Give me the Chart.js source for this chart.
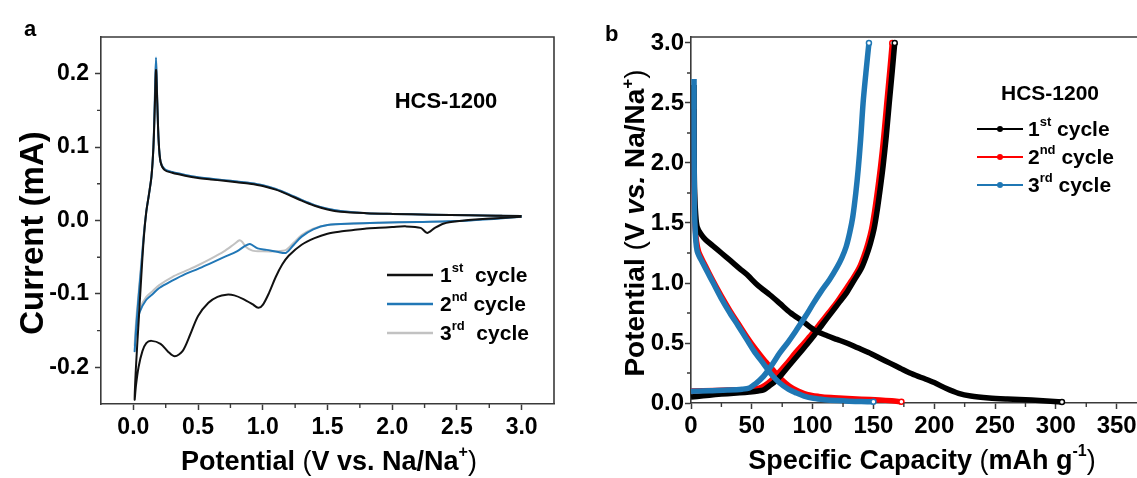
<!DOCTYPE html>
<html>
<head>
<meta charset="utf-8">
<script src="https://cdn.jsdelivr.net/npm/chart.js@4/dist/chart.umd.min.js"></script>
<style>
  html, body { margin: 0; padding: 0; background: #fff; overflow: hidden; }
  #cv { position: absolute; left: 0; top: 0; }
  #gcd { position: absolute; left: 580px; top: 0; }
</style>
</head>
<body>
<canvas id="cv" width="570" height="478"></canvas>
<canvas id="gcd" width="600" height="478"></canvas>
<script>
// ---- CV curves (potential V, current mA), in sweep order: cathodic then anodic ----
const cvV1 = [3.0, 2.7, 2.5, 2.4, 2.33, 2.27, 2.22, 2.1, 2.0, 1.9, 1.8, 1.7, 1.6, 1.5, 1.4, 1.3, 1.2, 1.15, 1.1, 1.05, 1.0, 0.965, 0.92, 0.85, 0.78, 0.72, 0.65, 0.58, 0.5, 0.44, 0.38, 0.32, 0.27, 0.21, 0.14, 0.1, 0.07, 0.04, 0.02, 0.01,
               0.02, 0.04, 0.06, 0.08, 0.1, 0.12, 0.14, 0.155, 0.165, 0.175, 0.185, 0.195, 0.21, 0.24, 0.3, 0.4, 0.5, 0.6, 0.7, 0.8, 0.9, 1.0, 1.1, 1.2, 1.3, 1.4, 1.5, 1.6, 1.8, 2.0, 2.3, 2.6, 3.0];
const cvI1 = [0.005, 0.002, -0.001, -0.004, -0.010, -0.017, -0.010, -0.008, -0.009, -0.010, -0.011, -0.013, -0.015, -0.018, -0.024, -0.033, -0.048, -0.060, -0.077, -0.098, -0.115, -0.119, -0.114, -0.107, -0.102, -0.101, -0.104, -0.112, -0.130, -0.155, -0.178, -0.185, -0.179, -0.168, -0.164, -0.167, -0.178, -0.200, -0.225, -0.244,
               -0.200, -0.140, -0.080, -0.025, 0.012, 0.035, 0.060, 0.100, 0.150, 0.205, 0.160, 0.110, 0.080, 0.069, 0.065, 0.061, 0.058, 0.056, 0.054, 0.052, 0.050, 0.047, 0.042, 0.035, 0.027, 0.020, 0.015, 0.012, 0.010, 0.009, 0.008, 0.007, 0.006];

const cvV2 = [3.0, 2.6, 2.2, 1.9, 1.7, 1.5, 1.39, 1.3, 1.24, 1.18, 1.12, 1.03, 0.96, 0.9, 0.86, 0.8, 0.7, 0.6, 0.5, 0.4, 0.3, 0.2, 0.15, 0.1, 0.05, 0.03, 0.015, 0.01,
               0.02, 0.04, 0.06, 0.08, 0.1, 0.12, 0.14, 0.155, 0.165, 0.175, 0.185, 0.195, 0.21, 0.24, 0.3, 0.4, 0.5, 0.6, 0.7, 0.8, 0.9, 1.0, 1.1, 1.2, 1.3, 1.4, 1.5, 1.6, 1.8, 2.0, 2.3, 2.6, 3.0];
const cvI2 = [0.005, 0.000, -0.002, -0.003, -0.004, -0.006, -0.012, -0.022, -0.033, -0.044, -0.043, -0.040, -0.038, -0.032, -0.035, -0.042, -0.050, -0.058, -0.066, -0.073, -0.082, -0.092, -0.100, -0.108, -0.124, -0.140, -0.165, -0.178,
               -0.150, -0.105, -0.065, -0.022, 0.012, 0.035, 0.060, 0.100, 0.160, 0.222, 0.160, 0.110, 0.080, 0.070, 0.066, 0.062, 0.059, 0.057, 0.055, 0.053, 0.051, 0.048, 0.043, 0.036, 0.028, 0.021, 0.016, 0.013, 0.010, 0.009, 0.008, 0.007, 0.006];

const cvV3 = [2.85, 2.6, 2.2, 1.9, 1.7, 1.5, 1.39, 1.3, 1.24, 1.18, 1.1, 1.0, 0.92, 0.87, 0.84, 0.82, 0.78, 0.7, 0.6, 0.5, 0.4, 0.3, 0.2, 0.15, 0.1, 0.05, 0.03, 0.015, 0.01,
               0.02, 0.04, 0.06, 0.08, 0.1, 0.12, 0.14, 0.155, 0.165, 0.175, 0.185, 0.195, 0.21, 0.24, 0.3, 0.4, 0.5, 0.6, 0.7, 0.8, 0.9, 1.0, 1.1, 1.2, 1.3, 1.4, 1.5, 1.6, 1.8, 2.0, 2.3, 2.6, 2.85];
const cvI3 = [0.006, 0.000, -0.002, -0.003, -0.004, -0.006, -0.011, -0.020, -0.030, -0.040, -0.042, -0.042, -0.041, -0.036, -0.029, -0.027, -0.032, -0.042, -0.052, -0.061, -0.069, -0.077, -0.088, -0.096, -0.104, -0.120, -0.135, -0.160, -0.170,
               -0.140, -0.100, -0.060, -0.020, 0.013, 0.036, 0.061, 0.100, 0.158, 0.218, 0.160, 0.110, 0.080, 0.070, 0.066, 0.062, 0.059, 0.057, 0.055, 0.053, 0.051, 0.048, 0.043, 0.036, 0.028, 0.021, 0.016, 0.013, 0.010, 0.009, 0.008, 0.007, 0.007];

const cvTicksX = [0, 0.5, 1.0, 1.5, 2.0, 2.5, 3.0];
const cvMinorX = [0.25, 0.75, 1.25, 1.75, 2.25, 2.75];
const cvTicksY = [-0.2, -0.1, 0.0, 0.1, 0.2];
const cvMinorY = [-0.15, -0.05, 0.05, 0.15];

// ---- galvanostatic discharge / charge (capacity mAh/g, potential V) ----
const dchC1 = [2.5, 2.5, 2.6, 3, 3.8, 5, 8, 12, 18, 25, 32, 40, 46, 55, 65, 73, 82, 92, 101, 112, 120, 128, 137, 146, 155, 164, 172, 180, 190, 200, 210, 220, 230, 245, 260, 280, 305];
const dchV1 = [2.65, 2.3, 2.0, 1.75, 1.58, 1.47, 1.41, 1.36, 1.31, 1.25, 1.19, 1.12, 1.07, 0.98, 0.9, 0.83, 0.75, 0.68, 0.61, 0.56, 0.53, 0.5, 0.46, 0.42, 0.375, 0.33, 0.29, 0.25, 0.21, 0.17, 0.12, 0.08, 0.058, 0.042, 0.033, 0.024, 0.008];
const chC1 = [0, 10, 20, 30, 40, 48, 55, 60, 64, 68, 73, 80, 88, 95, 101, 108, 115, 122, 128, 134, 140, 144, 147.5, 150.5, 153, 155.5, 158, 160.5, 163, 165.5, 167.5];
const chV1 = [0.05, 0.06, 0.07, 0.078, 0.085, 0.092, 0.1, 0.11, 0.14, 0.17, 0.22, 0.305, 0.4, 0.485, 0.56, 0.654, 0.747, 0.84, 0.92, 1.02, 1.12, 1.22, 1.33, 1.45, 1.6, 1.78, 1.98, 2.22, 2.5, 2.77, 3.0];

const dchC2 = [2.5, 2.5, 2.8, 3.5, 6, 12, 18, 25, 32, 39, 46, 53, 60, 67, 74, 81, 88, 96, 105, 115, 125, 140, 155, 165, 173];
const dchV2 = [2.45, 2.0, 1.7, 1.45, 1.27, 1.14, 1.02, 0.89, 0.77, 0.66, 0.55, 0.45, 0.36, 0.28, 0.2, 0.14, 0.1, 0.07, 0.055, 0.045, 0.04, 0.032, 0.025, 0.018, 0.01];
const chC2 = [0, 20, 40, 50, 56, 61, 66, 71, 78, 86, 93, 99, 106, 113, 120, 126, 132, 138, 142, 145.5, 148.5, 151, 153.5, 156, 158.5, 161, 163.5, 165.5];
const chV2 = [0.1, 0.105, 0.11, 0.115, 0.125, 0.15, 0.19, 0.24, 0.32, 0.42, 0.5, 0.57, 0.66, 0.75, 0.84, 0.93, 1.02, 1.12, 1.22, 1.33, 1.45, 1.6, 1.78, 1.98, 2.22, 2.5, 2.77, 3.0];

const dchC3 = [2.5, 2.5, 2.7, 3.2, 5, 10, 18.3, 25, 32, 39, 45.8, 52, 59.4, 66, 73, 80, 86.8, 93, 100.6, 110, 120, 130, 140, 150];
const dchV3 = [2.7, 2.2, 1.8, 1.5, 1.27, 1.16, 1.0, 0.87, 0.75, 0.64, 0.53, 0.43, 0.33, 0.24, 0.167, 0.115, 0.083, 0.058, 0.04, 0.028, 0.02, 0.015, 0.012, 0.01];
const chC3 = [0, 15, 30, 42, 48, 53, 59.4, 66, 73, 80, 86.8, 94, 100.6, 107, 114, 120, 124, 127.5, 130.5, 133, 135.5, 137.5, 139.5, 141.5, 143.8, 146.3];
const chV3 = [0.097, 0.103, 0.108, 0.115, 0.125, 0.16, 0.22, 0.31, 0.417, 0.51, 0.61, 0.72, 0.83, 0.93, 1.03, 1.13, 1.21, 1.3, 1.42, 1.55, 1.75, 1.95, 2.2, 2.5, 2.75, 3.0];

const gcdTicksX = [0, 50, 100, 150, 200, 250, 300, 350];
const gcdMinorX = [25, 75, 125, 175, 225, 275, 325];
const gcdTicksY = [0, 0.5, 1.0, 1.5, 2.0, 2.5, 3.0];
const gcdMinorY = [0.25, 0.75, 1.25, 1.75, 2.25, 2.75];

const cycleNames = [['1', 'st', '  cycle'], ['2', 'nd', ' cycle'], ['3', 'rd', '  cycle']];
const sampleName = 'HCS-1200';

const FONT = '"Liberation Sans", Arial, Helvetica, sans-serif';
const AXIS = '#3a3a3a';

function pts(xs, ys) {
    return xs.map((x, i) => ({ x: x, y: ys[i] }));
}

// draws a run of text pieces: b = bold, n = regular, i = bold italic, s = superscript
function richText(ctx, parts, x, y, size, align) {
    const fontOf = st => {
        if (st === 's') return 'bold ' + Math.round(size * 0.6) + 'px ' + FONT;
        if (st === 'n') return size + 'px ' + FONT;
        if (st === 'i') return 'italic bold ' + size + 'px ' + FONT;
        return 'bold ' + size + 'px ' + FONT;
    };
    let w = 0;
    parts.forEach(([t, st]) => { ctx.font = fontOf(st); w += ctx.measureText(t).width; });
    let cx = align === 'center' ? x - w / 2 : x;
    ctx.textAlign = 'left';
    parts.forEach(([t, st]) => {
        ctx.font = fontOf(st);
        ctx.fillText(t, cx, st === 's' ? y - size * 0.38 : y);
        cx += ctx.measureText(t).width;
    });
}

function rotatedText(ctx, parts, x, y, size) {
    ctx.save();
    ctx.translate(x, y);
    ctx.rotate(-Math.PI / 2);
    ctx.textBaseline = 'alphabetic';
    richText(ctx, parts, 0, 0, size, 'center');
    ctx.restore();
}

// minor ticks and the closing frame lines
function drawFrame(chart, minorX, minorY) {
    const ctx = chart.ctx;
    const a = chart.chartArea;
    const sx = chart.scales.x, sy = chart.scales.y;
    ctx.save();
    ctx.strokeStyle = AXIS;
    ctx.lineWidth = 1.6;
    ctx.beginPath();
    ctx.moveTo(a.left, a.top);
    ctx.lineTo(a.right, a.top);
    ctx.lineTo(a.right, a.bottom);
    ctx.stroke();
    ctx.lineWidth = 1.4;
    ctx.beginPath();
    minorX.forEach(v => {
        const px = sx.getPixelForValue(v);
        ctx.moveTo(px, a.bottom);
        ctx.lineTo(px, a.bottom + 4);
    });
    minorY.forEach(v => {
        const py = sy.getPixelForValue(v);
        ctx.moveTo(a.left, py);
        ctx.lineTo(a.left - 4, py);
    });
    ctx.stroke();
    ctx.restore();
}

function axisOpts(min, max, ticks, fmt, fontSize, pad) {
    return {
        type: 'linear',
        min: min,
        max: max,
        afterBuildTicks: s => { s.ticks = ticks.map(v => ({ value: v })); },
        ticks: {
            autoSkip: false,
            maxRotation: 0,
            padding: pad,
            color: '#000',
            font: { family: FONT, size: fontSize, weight: 'bold' },
            callback: fmt
        },
        grid: { drawOnChartArea: false, drawTicks: true, tickLength: 6, tickWidth: 1.5, tickColor: AXIS },
        border: { display: true, color: AXIS, width: 1.6 }
    };
}

// ---------- panel a: cyclic voltammetry ----------
const cvColors = ['#111111', '#2177b6', '#c2c2c2'];

const cvExtras = {
    id: 'cvExtras',
    afterDraw(chart) {
        const ctx = chart.ctx;
        drawFrame(chart, cvMinorX, cvMinorY);
        ctx.save();
        ctx.fillStyle = '#000';
        ctx.textBaseline = 'alphabetic';
        ctx.font = 'bold 22px ' + FONT;
        ctx.textAlign = 'left';
        ctx.fillText('a', 24, 36);

        ctx.textBaseline = 'middle';
        richText(ctx, [[sampleName, 'b']], 446, 102, 22, 'center');

        richText(ctx, [['Potential ', 'b'], ['(', 'n'], ['V vs. Na/Na', 'b'], ['+', 's'], [')', 'n']], 329, 463, 27, 'center');
        rotatedText(ctx, [['Current ', 'b'], ['(mA)', 'b']], 43, 233, 33);

        // legend
        const rows = [275, 304, 333];
        cycleNames.forEach((n, i) => {
            ctx.strokeStyle = cvColors[i];
            ctx.lineWidth = 2.5;
            ctx.beginPath();
            ctx.moveTo(387, rows[i]);
            ctx.lineTo(433, rows[i]);
            ctx.stroke();
            ctx.fillStyle = '#000';
            richText(ctx, [[n[0], 'b'], [n[1], 's'], [n[2], 'b']], 440, rows[i] + 1, 21, 'left');
        });
        ctx.restore();
    }
};

const cvSeries = [[cvV1, cvI1], [cvV2, cvI2], [cvV3, cvI3]];

new Chart(document.getElementById('cv'), {
    type: 'scatter',
    data: {
        datasets: cvSeries.map((s, i) => ({
            data: pts(s[0], s[1]),
            showLine: true,
            borderColor: cvColors[i],
            borderWidth: 2,
            pointRadius: 0,
            tension: 0.3,
            order: i
        }))
    },
    options: {
        responsive: false,
        animation: false,
        events: [],
        layout: { padding: { top: 37, right: 16, left: 0, bottom: 0 } },
        plugins: { legend: { display: false }, tooltip: { enabled: false } },
        scales: {
            x: Object.assign(axisOpts(-0.25, 3.25, cvTicksX, v => v.toFixed(1), 23, 4),
                { afterFit: s => { s.height = 74; } }),
            y: Object.assign(axisOpts(-0.25, 0.25, cvTicksY, v => v.toFixed(1), 23, 6),
                { afterFit: s => { s.width = 101; } })
        }
    },
    plugins: [cvExtras]
});

// ---------- panel b: discharge / charge profiles ----------
const gcdColors = ['#000000', '#ff0000', '#1f77b4'];

const gcdExtras = {
    id: 'gcdExtras',
    afterDraw(chart) {
        const ctx = chart.ctx;
        drawFrame(chart, gcdMinorX, gcdMinorY);
        ctx.save();
        ctx.fillStyle = '#000';
        ctx.textBaseline = 'alphabetic';
        ctx.font = 'bold 22px ' + FONT;
        ctx.textAlign = 'left';
        ctx.fillText('b', 25, 41);

        ctx.textBaseline = 'middle';
        richText(ctx, [[sampleName, 'b']], 470, 94, 21, 'center');

        richText(ctx, [['Specific Capacity ', 'b'], ['(', 'n'], ['mAh g', 'b'], ['-1', 's'], [')', 'n']], 342, 462, 27, 'center');
        rotatedText(ctx, [['Potential ', 'b'], ['(', 'n'], ['V ', 'b'], ['vs.', 'i'], [' Na/Na', 'b'], ['+', 's'], [')', 'n']], 64, 223, 28);

        const rows = [129, 157, 185];
        cycleNames.forEach((n, i) => {
            ctx.strokeStyle = gcdColors[i];
            ctx.fillStyle = gcdColors[i];
            ctx.lineWidth = 2;
            ctx.beginPath();
            ctx.moveTo(397, rows[i]);
            ctx.lineTo(443, rows[i]);
            ctx.stroke();
            ctx.beginPath();
            ctx.arc(420, rows[i], 3, 0, Math.PI * 2);
            ctx.fill();
            ctx.fillStyle = '#000';
            richText(ctx, [[n[0], 'b'], [n[1], 's'], [' cycle', 'b']], 448, rows[i] + 1, 21, 'left');
        });
        ctx.restore();
    }
};

const gcdSeries = [
    [dchC1, dchV1, 0], [chC1, chV1, 0],
    [dchC2, dchV2, 1], [chC2, chV2, 1],
    [dchC3, dchV3, 2], [chC3, chV3, 2]
];
const gcdOrder = [1, 2, 0];

new Chart(document.getElementById('gcd'), {
    type: 'scatter',
    data: {
        datasets: gcdSeries.map(s => ({
            data: pts(s[0], s[1]),
            showLine: true,
            borderColor: gcdColors[s[2]],
            borderWidth: 5.5,
            tension: 0.3,
            clip: 6,
            order: gcdOrder[s[2]],
            pointRadius: c => (c.dataIndex === s[0].length - 1 ? 2.5 : 0),
            pointBackgroundColor: '#ffffff',
            pointBorderColor: gcdColors[s[2]],
            pointBorderWidth: 1.5
        }))
    },
    options: {
        responsive: false,
        animation: false,
        events: [],
        layout: { padding: { top: 37, right: 39, left: 0, bottom: 0 } },
        plugins: { legend: { display: false }, tooltip: { enabled: false } },
        scales: {
            x: Object.assign(axisOpts(0, 370, gcdTicksX, v => String(v), 24, 3),
                { afterFit: s => { s.height = 75; } }),
            y: Object.assign(axisOpts(0, 3.05, gcdTicksY, v => v.toFixed(1), 24, 1),
                { afterFit: s => { s.width = 111; } })
        }
    },
    plugins: [gcdExtras]
});
</script>
</body>
</html>
